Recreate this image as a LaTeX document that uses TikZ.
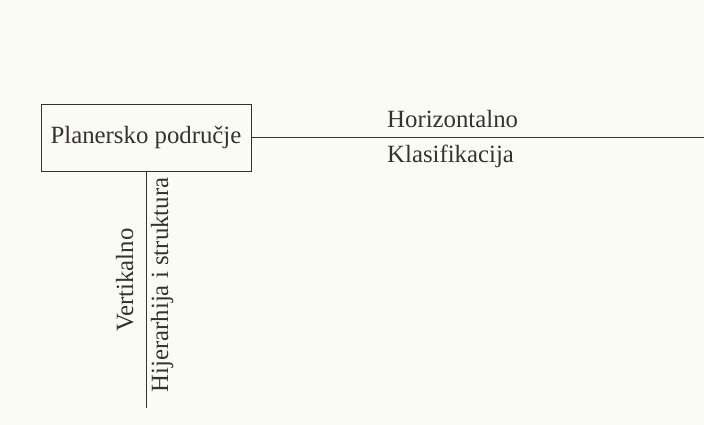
\documentclass[tikz,border=0pt]{standalone}
\usepackage{fontspec}
\setmainfont{Liberation Serif}
\definecolor{paper}{RGB}{251,251,245}
\definecolor{ink}{RGB}{55,50,50}

\begin{document}
\begin{tikzpicture}[x=1pt,y=-1pt,font=\fontsize{24.8}{29}\selectfont,text=ink]
      \fill[paper] (0,0) rectangle (704,425);
      \useasboundingbox (0,0) rectangle (704,425);
      \draw
        (146,137.5) node[draw=ink,line width=0.8pt,minimum width=210pt,minimum height=67pt,inner sep=0pt] (plan){Planersko područje}
        (704,137.5) coordinate (hend)
        (146,408) coordinate (vend);
      \draw[every node/.style={inner sep=0pt}]
        (387,128) node[anchor=base west] (horiz){Horizontalno}
        (387,162) node[anchor=base west] (klas){Klasifikacija}
        (133,280) node[rotate=90,anchor=base] (vert){Vertikalno}
        (168,285) node[rotate=90,anchor=base] (hijer){Hijerarhija i struktura};
      \begin{scope}[ink,line width=0.8pt]
        \draw (plan.east) to (hend);
        \draw (plan.south) to (vend);
      \end{scope}
    \end{tikzpicture}
\end{document}
